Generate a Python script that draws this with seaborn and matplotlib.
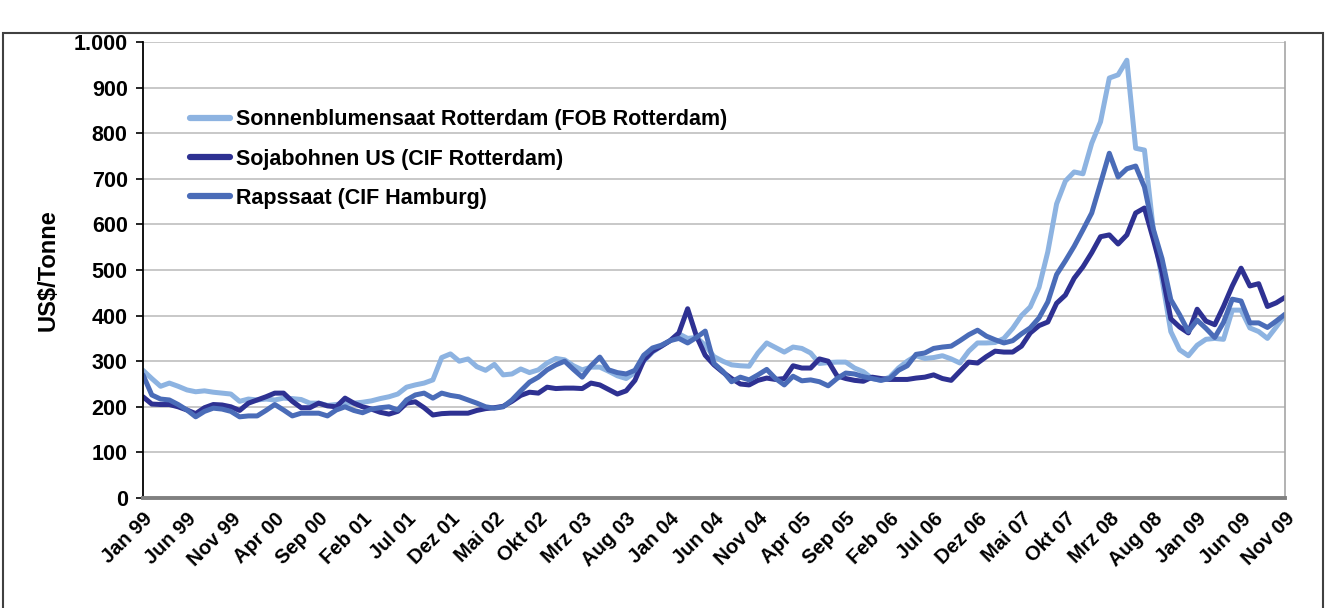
import matplotlib
matplotlib.use("Agg")
import matplotlib.pyplot as plt
import matplotlib.patches as patches
from matplotlib.ticker import FuncFormatter
import seaborn as sns
import numpy as np
import pandas as pd

# monthly prices in US$/Tonne, Jan 99 .. Nov 09 (131 months)
sun = [
    280, 262, 245, 252, 245, 237, 233, 235, 232, 230,
    228, 212, 217, 215, 217, 215, 219, 218, 216, 208,
    208, 203, 205, 208, 208, 210, 213, 218, 222, 228,
    243, 248, 252, 259, 308, 316, 300, 305, 288, 280,
    293, 270, 272, 283, 275, 281, 296, 306, 303, 290,
    281, 287, 287, 278, 268, 262, 275, 300, 320, 333,
    345, 360, 350, 352, 335, 310, 300, 292, 290, 289,
    318, 340, 330, 320, 331, 328, 318, 295, 297, 298,
    298, 285, 277, 262, 258, 265, 285, 300, 312, 306,
    308, 312, 305, 296, 322, 340, 340, 341, 350, 372,
    400, 419, 462, 540, 645, 695, 715, 711, 778, 825,
    921, 928, 960, 767, 763, 590, 480, 365, 325, 312,
    335, 348, 350, 348, 412, 412, 373, 365, 350, 375,
    401,
]
soy = [
    222, 206, 205, 205, 200, 193, 185, 198, 205, 204,
    200, 192, 208, 215, 222, 230, 230, 212, 198, 198,
    208, 202, 200, 219, 208, 200, 195, 188, 184, 190,
    208, 211, 198, 182, 185, 186, 186, 186, 192, 196,
    198, 201, 212, 225, 232, 230, 243, 240, 241, 241,
    240, 252, 248, 238, 228, 235, 258, 302, 322, 333,
    345, 362, 415, 355, 313, 292, 276, 262, 250, 248,
    258, 263, 260, 262, 290, 285, 285, 305, 300, 268,
    262, 258, 256, 265, 262, 260, 260, 260, 263, 265,
    270, 262, 258, 278, 298, 296, 310, 322, 320, 320,
    333, 362, 378, 386, 427, 445, 482, 507, 538, 573,
    577, 557, 577, 625, 636, 568, 495, 393, 375, 362,
    414, 388, 380, 420, 465, 504, 465, 470, 420, 428,
    440,
]
rape = [
    270, 226, 217, 215, 205, 193, 178, 190, 197, 195,
    190, 178, 180, 180, 192, 205, 193, 180, 186, 186,
    186, 180, 193, 200, 192, 187, 195, 198, 200, 193,
    215, 226, 230, 219, 230, 225, 222, 215, 208, 200,
    197, 200, 215, 235, 254, 265, 281, 292, 300, 282,
    265, 290, 309, 281, 275, 272, 280, 313, 329, 335,
    345, 350, 340, 352, 366, 295, 278, 255, 265, 259,
    270, 282, 262, 248, 267, 257, 259, 255, 246, 262,
    274, 272, 266, 262, 258, 262, 280, 290, 315, 318,
    328, 331, 333, 345, 358, 368, 355, 347, 340, 345,
    360, 373, 395, 430, 490, 520, 552, 588, 625, 690,
    756, 704, 722, 728, 682, 590, 525, 435, 402, 365,
    390, 372, 352, 385, 436, 432, 384, 384, 374, 388,
    403,
]

tick_labels = [
    "Jan 99", "Jun 99", "Nov 99", "Apr 00", "Sep 00", "Feb 01", "Jul 01",
    "Dez 01", "Mai 02", "Okt 02", "Mrz 03", "Aug 03", "Jan 04", "Jun 04",
    "Nov 04", "Apr 05", "Sep 05", "Feb 06", "Jul 06", "Dez 06", "Mai 07",
    "Okt 07", "Mrz 08", "Aug 08", "Jan 09", "Jun 09", "Nov 09",
]

series_names = [
    "Sonnenblumensaat Rotterdam (FOB Rotterdam)",
    "Sojabohnen US (CIF Rotterdam)",
    "Rapssaat (CIF Hamburg)",
]
colors = ["#8DB3E1", "#2E3192", "#4A6CB8"]

months = np.arange(len(sun))
df = pd.DataFrame({
    "month": np.tile(months, 3),
    "price": sun + soy + rape,
    "series": np.repeat(series_names, len(sun)),
})

sns.set_theme(style="white")
plt.rcParams["font.family"] = ["Liberation Sans", "DejaVu Sans"]
plt.rcParams["text.color"] = "black"
plt.rcParams["axes.labelcolor"] = "black"
plt.rcParams["xtick.color"] = "black"
plt.rcParams["ytick.color"] = "black"

fig = plt.figure(figsize=(13.28, 6.08), dpi=100)
ax = fig.add_axes([143 / 1328, 1 - 498 / 608, 1142 / 1328, 456 / 608])

sns.lineplot(
    data=df, x="month", y="price", hue="series", hue_order=series_names,
    palette=dict(zip(series_names, colors)), linewidth=3.6, ax=ax,
)

ax.set_xlim(0, len(sun) - 1)
ax.set_ylim(0, 1000)
ax.set_yticks(np.arange(0, 1001, 100))
ax.yaxis.set_major_formatter(FuncFormatter(lambda v, p: f"{int(v):,}".replace(",", ".")))
ax.set_xticks(np.arange(0, len(sun), 5))
ax.set_xticklabels(tick_labels, rotation=45, ha="right", rotation_mode="anchor")

ax.grid(axis="y", color="#BFBFBF", linewidth=1.2)
ax.set_axisbelow(True)
ax.tick_params(axis="y", which="major", direction="out", length=5, width=1.2,
               color="black", labelsize=15.5, pad=6, left=True)
ax.tick_params(axis="x", length=0, labelsize=14.5, pad=8)
for lbl in ax.get_xticklabels() + ax.get_yticklabels():
    lbl.set_fontweight("bold")

ax.spines["left"].set_color("black")
ax.spines["left"].set_linewidth(1.3)
ax.spines["bottom"].set_color("#808080")
ax.spines["bottom"].set_linewidth(2.8)
ax.spines["right"].set_color("#A6A6A6")
ax.spines["right"].set_linewidth(1.2)
ax.spines["top"].set_visible(False)

ax.set_xlabel("")
ax.set_ylabel("US$/Tonne", fontsize=17, fontweight="bold", labelpad=10)

leg = ax.legend(
    loc="upper left", bbox_to_anchor=(0.032, 0.876), frameon=False,
    prop={"size": 15.5, "weight": "bold"}, handlelength=1.85,
    handletextpad=0.25, labelspacing=0.85, borderpad=0,
)
for line in leg.get_lines():
    line.set_linewidth(4.5)

# outer chart frame
fig.patches.append(patches.Rectangle(
    (3 / 1328, -0.05), 1320 / 1328, 1.05 - 33 / 608, transform=fig.transFigure,
    fill=False, edgecolor="#404040", linewidth=1.5, clip_on=False))

fig.savefig("out.png", dpi=100)
